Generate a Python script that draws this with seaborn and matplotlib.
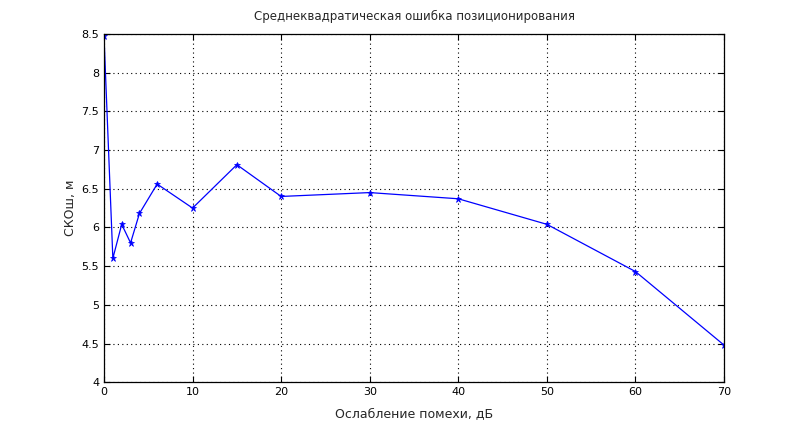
import numpy as np
import pandas as pd
import matplotlib
matplotlib.use("Agg")
import matplotlib.pyplot as plt
import seaborn as sns

# ослабление помехи, дБ и СКО ошибки, м
attenuation_db = [0, 1, 2, 3, 4, 6, 10, 15, 20, 30, 40, 50, 60, 70]
rmse_m = [8.47, 5.60, 6.04, 5.80, 6.18, 6.56, 6.25, 6.81, 6.40, 6.45, 6.37, 6.04, 5.43, 4.48]

title_text = "Среднеквадратическая ошибка позиционирования"
xlabel_text = "Ослабление помехи, дБ"
ylabel_text = "СКОш, м"
x_ticks = list(range(0, 71, 10))
y_ticks = [4, 4.5, 5, 5.5, 6, 6.5, 7, 7.5, 8, 8.5]

df = pd.DataFrame({"x": attenuation_db, "y": rmse_m})

sns.set_theme(style="white")
plt.rcParams["font.family"] = ["DejaVu Sans"]

fig = plt.figure(figsize=(8, 4.29), dpi=100)
ax = fig.add_axes([0.13, 0.109, 0.775, 0.812])

sns.lineplot(data=df, x="x", y="y", ax=ax, color="blue", linewidth=0.9,
             marker="*", markersize=5, markeredgewidth=0.5, markeredgecolor="blue",
             sort=False)

ax.set_xlim(0, 70)
ax.set_ylim(4, 8.5)
ax.set_xticks(x_ticks)
ax.set_yticks(y_ticks)
ax.set_yticklabels([f"{v:g}" for v in y_ticks])

ax.grid(True, color="black", linestyle=(0, (1, 3)), linewidth=0.8)
for sp in ax.spines.values():
    sp.set_visible(True)
    sp.set_color("black")
    sp.set_linewidth(0.9)
ax.tick_params(direction="in", length=4, width=0.8, labelsize=8, colors="black",
               top=True, right=True, bottom=True, left=True,
               labeltop=False, labelright=False)

ax.set_title(title_text, fontsize=8.5, pad=10)
ax.set_xlabel(xlabel_text, fontsize=9, labelpad=7)
ax.set_ylabel(ylabel_text, fontsize=9, labelpad=3)

fig.savefig("out.png", dpi=100, facecolor="white")
